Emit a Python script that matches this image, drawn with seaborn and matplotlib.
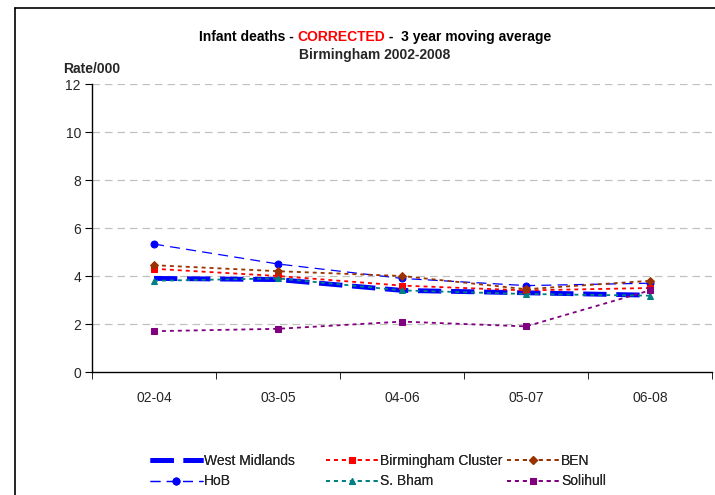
import matplotlib
matplotlib.use('Agg')
import matplotlib.pyplot as plt
import pandas as pd
import seaborn as sns

periods = ['02-04', '03-05', '04-06', '05-07', '06-08']
west_midlands = [3.9, 3.85, 3.4, 3.3, 3.2]
brum_cluster = [4.3, 4.0, 3.6, 3.4, 3.5]
ben = [4.45, 4.2, 4.0, 3.45, 3.8]
hob = [5.33, 4.5, 3.9, 3.6, 3.7]
s_bham = [3.8, 3.9, 3.4, 3.25, 3.18]
solihull = [1.7, 1.8, 2.1, 1.9, 3.4]

sns.set_style('white')
plt.rcParams['font.family'] = ['Liberation Sans', 'DejaVu Sans']

fig = plt.figure(figsize=(7.15, 4.95), dpi=100)
ax = fig.add_axes([92 / 715, 1 - 372 / 495, 620 / 715, 288 / 495])

series = [
    ('West Midlands', west_midlands, '#0000FF', None, 3.5, (0, (4.8, 2.0))),
    ('HoB', hob, '#0000FF', 'o', 0.9, (0, (8, 5))),
    ('Birmingham Cluster', brum_cluster, '#FF0000', 's', 1.3, (0, (2.2, 2.2))),
    ('S. Bham', s_bham, '#008080', '^', 1.3, (0, (2.2, 2.2))),
    ('BEN', ben, '#993300', 'D', 1.3, (0, (2.2, 2.2))),
    ('Solihull', solihull, '#800080', 's', 1.3, (0, (2.2, 2.2))),
]

for name, vals, col, mk, lw, ls in series:
    df = pd.DataFrame({'period': periods, 'rate': vals})
    sns.lineplot(data=df, x='period', y='rate', ax=ax, color=col, marker=mk,
                 markersize=5 if mk != 'D' else 4, markeredgecolor=col,
                 linewidth=lw, linestyle=ls, label=name, sort=False)

ax.set_xlim(-0.5, 4.5)
ax.set_ylim(0, 12)
ax.set_yticks(range(0, 13, 2))
ax.set_xticks(range(5))
ax.set_xticklabels(periods)
ax.set_xticks([-0.5, 0.5, 1.5, 2.5, 3.5, 4.5], minor=True)
ax.tick_params(axis='x', which='major', length=0, pad=14, labelsize=10)
ax.tick_params(axis='x', which='minor', length=5, color='black', direction='out', bottom=True)
ax.tick_params(axis='y', length=5, color='black', direction='out', left=True, labelsize=10, pad=3)
ax.set_xlabel('')
ax.set_ylabel('')
ax.grid(False)
for y in range(2, 13, 2):
    ax.axhline(y, color='#C0C0C0', linestyle=(0, (6, 4)), linewidth=0.9, zorder=0)
for s in ['top', 'right']:
    ax.spines[s].set_visible(False)
for s in ['left', 'bottom']:
    ax.spines[s].set_color('black')
    ax.spines[s].set_linewidth(1)

fig.text(63 / 715, 1 - 69 / 495, 'Rate/000', fontsize=10, fontweight='bold',
         ha='left', va='center')

# title in three colored pieces
renderer = fig.canvas.get_renderer()
parts = [('Infant deaths - ', 'black'), ('CORRECTED', '#FF0000'), (' -  3 year moving average', 'black')]
texts = [fig.text(0, 1 - 37 / 495, p, color=c, fontsize=10, fontweight='bold', va='center')
         for p, c in parts]
widths = [t.get_window_extent(renderer).width for t in texts]
x0 = 375 - sum(widths) / 2
for t, w in zip(texts, widths):
    t.set_x(x0 / 715)
    x0 += w
fig.text(375 / 715, 1 - 55 / 495, 'Birmingham 2002-2008', fontsize=10, fontweight='bold',
         ha='center', va='center')

# legend: three columns placed like the original
handles, labels = ax.get_legend_handles_labels()
ax.get_legend().remove()
col_x = [150, 326, 507]
for i, cx in enumerate(col_x):
    leg = fig.legend(handles[2 * i:2 * i + 2], labels[2 * i:2 * i + 2], loc='center left',
                     bbox_to_anchor=(cx / 715, 1 - 471 / 495), frameon=False, fontsize=10,
                     handlelength=3.8, handletextpad=0.1, labelspacing=0.5, borderaxespad=0,
                     borderpad=0)
    fig.add_artist(leg)

# outer chart border
fig.add_artist(plt.Line2D([15 / 715, 15 / 715], [0, 1 - 8 / 495], transform=fig.transFigure,
                          color='black', linewidth=1.2))
fig.add_artist(plt.Line2D([15 / 715, 1], [1 - 8 / 495, 1 - 8 / 495], transform=fig.transFigure,
                          color='black', linewidth=1.2))

fig.savefig('out.png', dpi=100)
